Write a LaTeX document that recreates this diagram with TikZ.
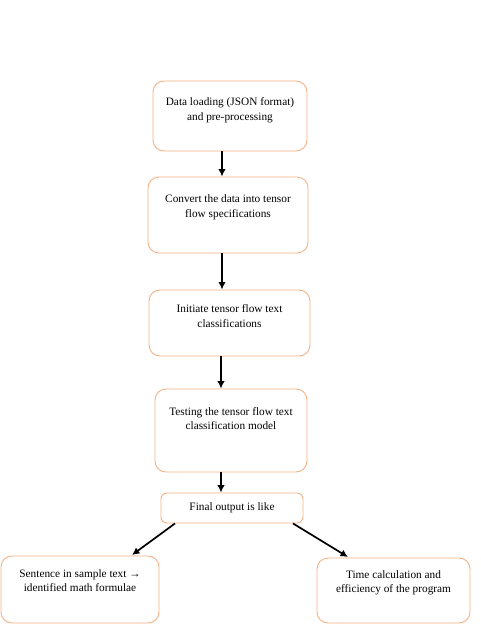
\documentclass[tikz,border=0pt]{standalone}
\usepackage{fontspec}
\setmainfont{Liberation Serif}
\usetikzlibrary{arrows.meta}
\definecolor{boxorange}{RGB}{244,177,131}
\begin{document}
\begin{tikzpicture}[x=1pt,y=-1pt,
  stepbox/.style={draw=boxorange, line width=0.9pt, rounded corners=11pt, align=center,
    font=\fontsize{11.3}{14.5}\selectfont, inner sep=0pt},
  flow/.style={-{Latex[length=7.5pt,width=7.5pt]}, line width=1.7pt, black}]
\useasboundingbox (0,0) rectangle (481,635);
\node[stepbox, minimum width=154pt, minimum height=70pt, text depth=14pt] (b1) at (230,116) {Data loading (JSON format)\\and pre-processing};
\node[stepbox, minimum width=160pt, minimum height=76pt, text depth=18pt] (b2) at (228,215) {Convert the data into tensor\\flow specifications};
\node[stepbox, minimum width=161pt, minimum height=66pt, text depth=14pt] (b3) at (229.5,323) {Initiate tensor flow text\\classifications};
\node[stepbox, minimum width=152pt, minimum height=83pt, text depth=24pt] (b4) at (231,430.5) {Testing the tensor flow text\\classification model};
\node[stepbox, minimum width=142pt, minimum height=30pt, rounded corners=6pt] (b5) at (232,508) {Final output is like};
\node[stepbox, minimum width=158pt, minimum height=67pt, text depth=18pt] (b6) at (80,589.5) {Sentence in sample text \symbol{"2192}\\identified math formulae};
\node[stepbox, minimum width=153pt, minimum height=65pt, text depth=18pt] (b7) at (393.5,590.5) {Time calculation and\\efficiency of the program};
\draw[flow] (b1.south -| 222,0) -- (b2.north -| 222,0);
\draw[flow] (b2.south -| 222,0) -- (b3.north -| 222,0);
\draw[flow] (b3.south -| 221,0) -- (b4.north -| 221,0);
\draw[flow] (b4.south -| 221,0) -- (b5.north -| 221,0);
\draw[flow] (b5.south -| 175,0) -- (132,555);
\draw[flow] (b5.south -| 293,0) -- (348,557);
\end{tikzpicture}
\end{document}
